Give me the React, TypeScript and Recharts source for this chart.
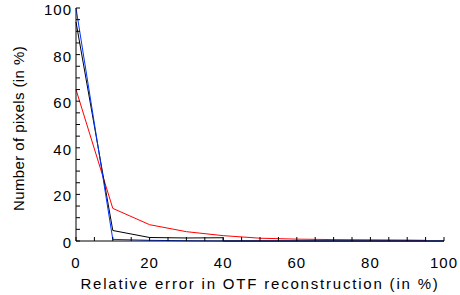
import { LineChart, Line, XAxis, YAxis } from 'recharts';

// relative error bins (in %)
const redX = [0, 10, 20, 30, 40, 50, 60, 70, 80, 90, 95];
const redPct = [65, 14, 7, 4, 2.3, 1.2, 0.8, 0.6, 0.5, 0.4, 0.3];

const blackX = [0, 10, 20, 30, 40, 40, 100];
const blackPct = [94, 4.5, 1.5, 1.3, 1.4, 0, 0];

const blueX = [0, 10, 20, 30, 40, 100];
const bluePct = [100, 0.7, 0.3, 0.1, 0, 0];

const ticks = [0, 5, 10, 15, 20, 25, 30, 35, 40, 45, 50, 55, 60, 65, 70, 75, 80, 85, 90, 95, 100];

const toPoints = (xs: number[], ys: number[]) => xs.map((x, i) => ({ x, y: ys[i] }));

const FONT = '"Liberation Sans", Arial, sans-serif';
const TICK_LEN = 4;

function BottomTick(props: any) {
  const { x, y, payload } = props;
  const v = payload.value;
  return (
    <g>
      <line x1={x} y1={y} x2={x} y2={y - TICK_LEN} stroke="#000" />
      {v % 20 === 0 && (
        <text x={x} y={y + 27} textAnchor="middle" fontFamily={FONT} fontSize={15} letterSpacing={1} fill="#000">
          {v}
        </text>
      )}
    </g>
  );
}

function TopTick(props: any) {
  const { x, y } = props;
  return <line x1={x} y1={y} x2={x} y2={y + TICK_LEN} stroke="#000" />;
}

function LeftTick(props: any) {
  const { x, y, payload } = props;
  const v = payload.value;
  return (
    <g>
      <line x1={x} y1={y} x2={x + TICK_LEN} y2={y} stroke="#000" />
      {v % 20 === 0 && (
        <text x={x - 4} y={y + 7} textAnchor="end" fontFamily={FONT} fontSize={15} letterSpacing={1} fill="#000">
          {v}
        </text>
      )}
    </g>
  );
}

function RightTick(props: any) {
  const { x, y } = props;
  return <line x1={x} y1={y} x2={x - TICK_LEN} y2={y} stroke="#000" />;
}

function YTitle(props: any) {
  const { viewBox } = props;
  const cx = 18;
  const cy = viewBox.y + viewBox.height / 2 + 4;
  return (
    <text
      x={cx}
      y={cy}
      transform={`rotate(-90 ${cx} ${cy})`}
      textAnchor="middle"
      dominantBaseline="central"
      fontFamily={FONT}
      fontSize={15}
      letterSpacing={0.4}
      fill="#000"
    >
      Number of pixels (in %)
    </text>
  );
}

export default function App() {
  return (
    <div style={{ position: 'absolute', left: 0, top: 0, background: '#fff' }}>
      <LineChart width={460} height={295} margin={{ top: 8, right: 16, left: 0, bottom: 0 }}>
        <XAxis
          dataKey="x"
          type="number"
          domain={[0, 100]}
          ticks={ticks}
          interval={0}
          height={54}
          tickSize={0}
          tickMargin={0}
          tick={<BottomTick />}
          axisLine={{ stroke: '#000' }}
          allowDuplicatedCategory={false}
          label={{
            value: 'Relative error in OTF reconstruction (in %)',
            position: 'insideBottom',
            offset: 6,
            style: { fontFamily: FONT, fontSize: 15, letterSpacing: 1.8, fill: '#000' },
          }}
        />
        <XAxis
          xAxisId="top"
          orientation="top"
          type="number"
          domain={[0, 100]}
          ticks={ticks}
          interval={0}
          height={0}
          tickSize={0}
          tickMargin={0}
          tick={<TopTick />}
          axisLine={{ stroke: '#000' }}
        />
        <YAxis
          type="number"
          domain={[0, 100]}
          ticks={ticks}
          interval={0}
          width={76}
          tickSize={0}
          tickMargin={0}
          tick={<LeftTick />}
          axisLine={{ stroke: '#000' }}
          label={<YTitle />}
        />
        <YAxis
          yAxisId="right"
          orientation="right"
          type="number"
          domain={[0, 100]}
          ticks={ticks}
          interval={0}
          width={0}
          tickSize={0}
          tickMargin={0}
          tick={<RightTick />}
          axisLine={{ stroke: '#000' }}
        />
        <Line
          data={toPoints(redX, redPct)}
          dataKey="y"
          type="linear"
          stroke="#ff0000"
          strokeWidth={1}
          dot={false}
          isAnimationActive={false}
        />
        <Line
          data={toPoints(blackX, blackPct)}
          dataKey="y"
          type="linear"
          stroke="#000000"
          strokeWidth={1}
          dot={false}
          isAnimationActive={false}
        />
        <Line
          data={toPoints(blueX, bluePct)}
          dataKey="y"
          type="linear"
          stroke="#0033ff"
          strokeWidth={1}
          dot={false}
          isAnimationActive={false}
        />
      </LineChart>
    </div>
  );
}
